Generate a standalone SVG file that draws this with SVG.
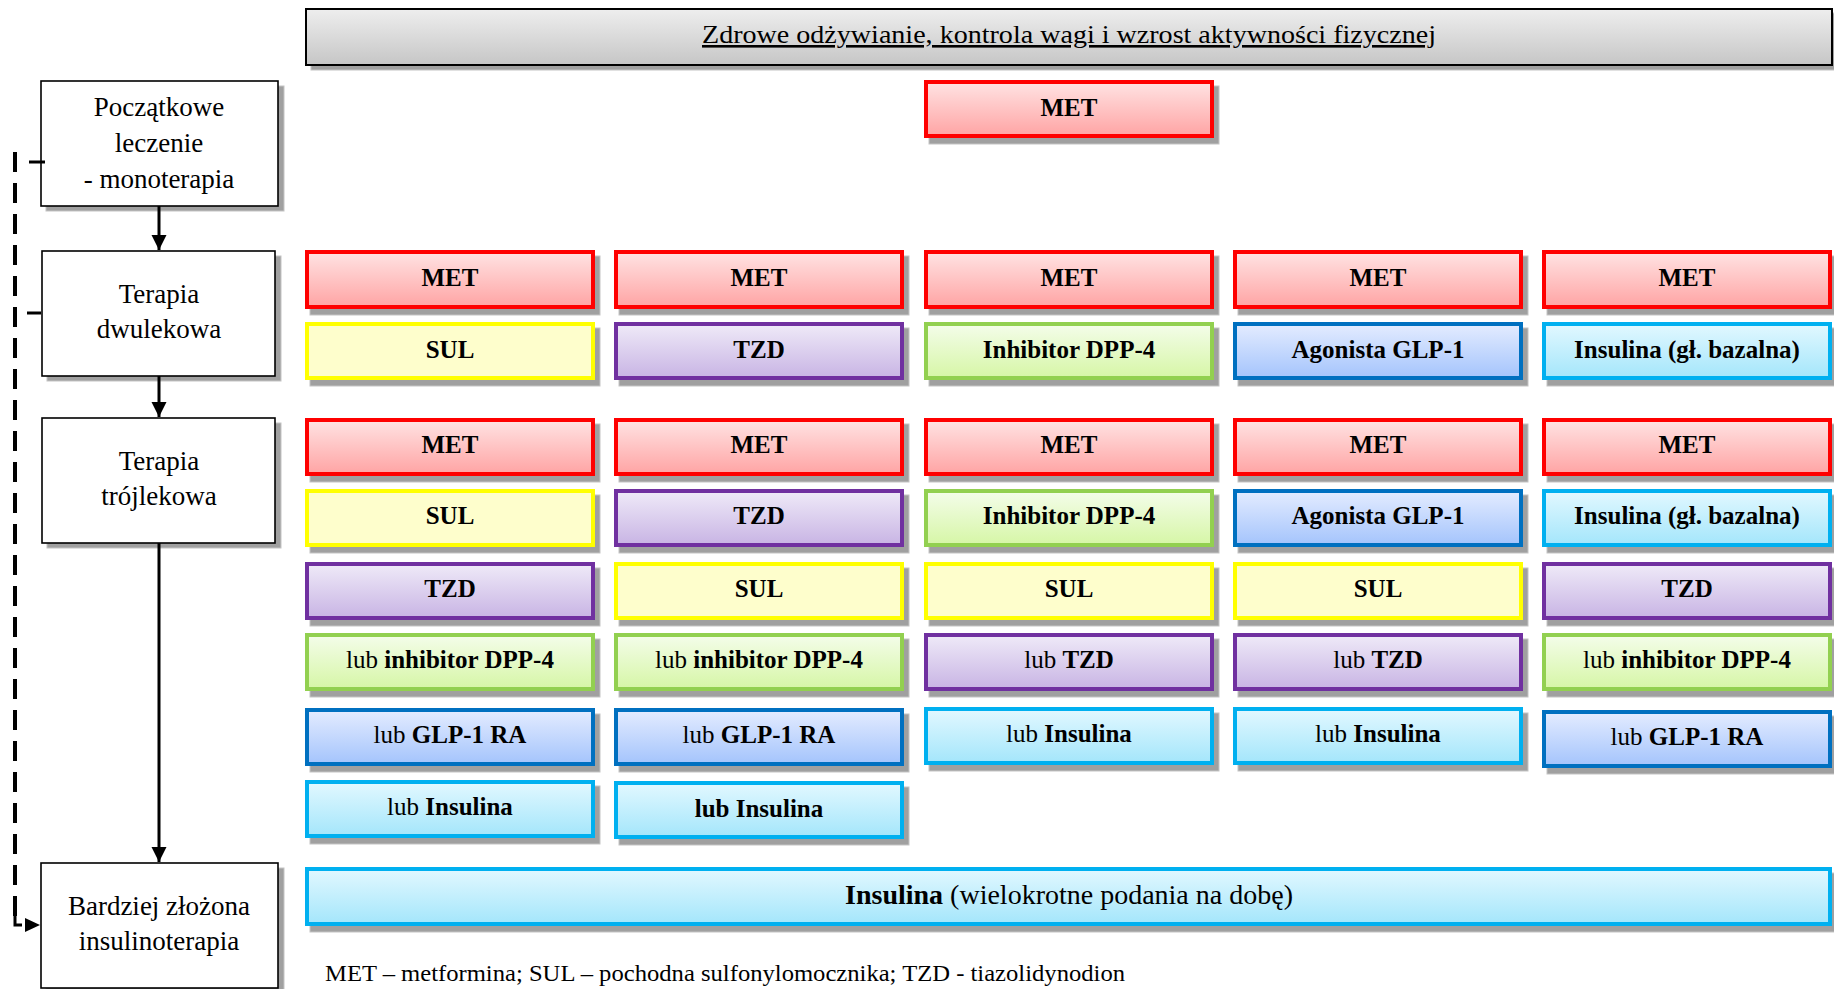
<svg xmlns="http://www.w3.org/2000/svg" width="1834" height="989" viewBox="0 0 1834 989">
<defs>
<linearGradient id="gMET" x1="0" y1="0" x2="0" y2="1"><stop offset="0" stop-color="#FFE3E3"/><stop offset="1" stop-color="#FFA4A4"/></linearGradient>
<linearGradient id="gTZD" x1="0" y1="0" x2="0" y2="1"><stop offset="0" stop-color="#EFEAF8"/><stop offset="1" stop-color="#C8B4E4"/></linearGradient>
<linearGradient id="gDPP" x1="0" y1="0" x2="0" y2="1"><stop offset="0" stop-color="#F4FDEA"/><stop offset="1" stop-color="#D6F6A6"/></linearGradient>
<linearGradient id="gGLP" x1="0" y1="0" x2="0" y2="1"><stop offset="0" stop-color="#E4ECFF"/><stop offset="1" stop-color="#A4C4FC"/></linearGradient>
<linearGradient id="gINS" x1="0" y1="0" x2="0" y2="1"><stop offset="0" stop-color="#E2F8FF"/><stop offset="1" stop-color="#A4E6FB"/></linearGradient>
<linearGradient id="gTop" x1="0" y1="0" x2="0" y2="1"><stop offset="0" stop-color="#EEEEEE"/><stop offset="1" stop-color="#C6C6C6"/></linearGradient>
<marker id="arr" markerUnits="userSpaceOnUse" markerWidth="16" markerHeight="16" refX="15" refY="7.5" orient="auto"><path d="M0,0 L15,7.5 L0,15 z" fill="#000"/></marker>
</defs>
<style>
.sh{fill:#A0A0A0;stroke:#C4C4C4;stroke-width:1}
.box{stroke-width:4}
.met{fill:url(#gMET);stroke:#FF0000}
.sul{fill:#FEFECC;stroke:#FFFF00}
.tzd{fill:url(#gTZD);stroke:#7030A0}
.dpp{fill:url(#gDPP);stroke:#92D050}
.glp{fill:url(#gGLP);stroke:#0070C0}
.ins{fill:url(#gINS);stroke:#00B0F0}
.lb{fill:#fff;stroke:#000;stroke-width:1.6}
.t{font-family:"Liberation Serif","Times New Roman",serif;fill:#000;text-anchor:middle}
.bt{font-size:25px;font-weight:bold}
.lt{font-size:27px}
.r{font-weight:normal}
.con{stroke:#000;stroke-width:3;fill:none}
</style>

<g id="lifestyle">
<rect class="sh" x="311" y="13" width="1527" height="57" stroke="none"/>
<rect x="306" y="9" width="1526" height="56" fill="url(#gTop)" stroke="#000" stroke-width="2"/>
<text class="t" x="1069" y="43" font-size="26" text-decoration="underline" textLength="734" lengthAdjust="spacingAndGlyphs">Zdrowe odżywianie, kontrola wagi i wzrost aktywności fizycznej</text>
</g>

<g id="stage-mono">
<rect class="sh" x="46" y="86" width="238" height="125" stroke="none"/>
<rect class="lb" x="41" y="81" width="237" height="125"/>
<text class="t lt" x="159" y="116">Początkowe</text>
<text class="t lt" x="159" y="152">leczenie</text>
<text class="t lt" x="159" y="188">- monoterapia</text>
</g>
<g id="stage-dual">
<rect class="sh" x="47" y="256" width="234" height="125" stroke="none"/>
<rect class="lb" x="42" y="251" width="233" height="125"/>
<text class="t lt" x="159" y="303">Terapia</text>
<text class="t lt" x="159" y="338">dwulekowa</text>
</g>
<g id="stage-triple">
<rect class="sh" x="47" y="423" width="234" height="125" stroke="none"/>
<rect class="lb" x="42" y="418" width="233" height="125"/>
<text class="t lt" x="159" y="470">Terapia</text>
<text class="t lt" x="159" y="505">trójlekowa</text>
</g>
<g id="stage-insulin">
<rect class="sh" x="46" y="868" width="238" height="125" stroke="none"/>
<rect class="lb" x="41" y="863" width="237" height="125"/>
<text class="t lt" x="159" y="915">Bardziej złożona</text>
<text class="t lt" x="159" y="950">insulinoterapia</text>
</g>

<g id="connectors">
<line class="con" x1="159" y1="206" x2="159" y2="250" marker-end="url(#arr)"/>
<line class="con" x1="159" y1="376" x2="159" y2="417" marker-end="url(#arr)"/>
<line class="con" x1="159" y1="543" x2="159" y2="862" marker-end="url(#arr)"/>
<line x1="29" y1="162" x2="45" y2="162" stroke="#000" stroke-width="3"/>
<line x1="27" y1="313" x2="41" y2="313" stroke="#000" stroke-width="3"/>
<line x1="15" y1="152" x2="15" y2="925" stroke="#000" stroke-width="4" stroke-dasharray="20 11"/>
<path d="M15 916 V925 H22" fill="none" stroke="#000" stroke-width="3"/>
<path d="M25 918 L40 925 L25 932 z" fill="#000"/>
</g>

<g id="met-mono">
<rect class="sh" x="929" y="86" width="290" height="58"/>
<rect class="box met" x="926" y="82" width="286" height="54"/>
<text class="t bt" x="1069" y="116">MET</text>
</g>

<!-- dual therapy -->
<g id="dual-1">
<rect class="sh" x="310" y="256" width="290" height="59"/><rect class="box met" x="307" y="252" width="286" height="55"/><text class="t bt" x="450" y="286">MET</text>
<rect class="sh" x="310" y="328" width="290" height="58"/><rect class="box sul" x="307" y="324" width="286" height="54"/><text class="t bt" x="450" y="358">SUL</text>
</g>
<g id="dual-2">
<rect class="sh" x="619" y="256" width="290" height="59"/><rect class="box met" x="616" y="252" width="286" height="55"/><text class="t bt" x="759" y="286">MET</text>
<rect class="sh" x="619" y="328" width="290" height="58"/><rect class="box tzd" x="616" y="324" width="286" height="54"/><text class="t bt" x="759" y="358">TZD</text>
</g>
<g id="dual-3">
<rect class="sh" x="929" y="256" width="290" height="59"/><rect class="box met" x="926" y="252" width="286" height="55"/><text class="t bt" x="1069" y="286">MET</text>
<rect class="sh" x="929" y="328" width="290" height="58"/><rect class="box dpp" x="926" y="324" width="286" height="54"/><text class="t bt" x="1069" y="358">Inhibitor DPP-4</text>
</g>
<g id="dual-4">
<rect class="sh" x="1238" y="256" width="290" height="59"/><rect class="box met" x="1235" y="252" width="286" height="55"/><text class="t bt" x="1378" y="286">MET</text>
<rect class="sh" x="1238" y="328" width="290" height="58"/><rect class="box glp" x="1235" y="324" width="286" height="54"/><text class="t bt" x="1378" y="358">Agonista GLP-1</text>
</g>
<g id="dual-5">
<rect class="sh" x="1547" y="256" width="290" height="59"/><rect class="box met" x="1544" y="252" width="286" height="55"/><text class="t bt" x="1687" y="286">MET</text>
<rect class="sh" x="1547" y="328" width="290" height="58"/><rect class="box ins" x="1544" y="324" width="286" height="54"/><text class="t bt" x="1687" y="358">Insulina (gł. bazalna)</text>
</g>

<!-- triple therapy -->
<g id="triple-1">
<rect class="sh" x="310" y="424" width="290" height="58"/><rect class="box met" x="307" y="420" width="286" height="54"/><text class="t bt" x="450" y="453">MET</text>
<rect class="sh" x="310" y="495" width="290" height="58"/><rect class="box sul" x="307" y="491" width="286" height="54"/><text class="t bt" x="450" y="524">SUL</text>
<rect class="sh" x="310" y="568" width="290" height="58"/><rect class="box tzd" x="307" y="564" width="286" height="54"/><text class="t bt" x="450" y="597">TZD</text>
<rect class="sh" x="310" y="639" width="290" height="58"/><rect class="box dpp" x="307" y="635" width="286" height="54"/><text class="t bt" x="450" y="668"><tspan class="r">lub </tspan>inhibitor DPP-4</text>
<rect class="sh" x="310" y="714" width="290" height="58"/><rect class="box glp" x="307" y="710" width="286" height="54"/><text class="t bt" x="450" y="743"><tspan class="r">lub </tspan>GLP-1 RA</text>
<rect class="sh" x="310" y="786" width="290" height="58"/><rect class="box ins" x="307" y="782" width="286" height="54"/><text class="t bt" x="450" y="815"><tspan class="r">lub </tspan>Insulina</text>
</g>
<g id="triple-2">
<rect class="sh" x="619" y="424" width="290" height="58"/><rect class="box met" x="616" y="420" width="286" height="54"/><text class="t bt" x="759" y="453">MET</text>
<rect class="sh" x="619" y="495" width="290" height="58"/><rect class="box tzd" x="616" y="491" width="286" height="54"/><text class="t bt" x="759" y="524">TZD</text>
<rect class="sh" x="619" y="568" width="290" height="58"/><rect class="box sul" x="616" y="564" width="286" height="54"/><text class="t bt" x="759" y="597">SUL</text>
<rect class="sh" x="619" y="639" width="290" height="58"/><rect class="box dpp" x="616" y="635" width="286" height="54"/><text class="t bt" x="759" y="668"><tspan class="r">lub </tspan>inhibitor DPP-4</text>
<rect class="sh" x="619" y="714" width="290" height="58"/><rect class="box glp" x="616" y="710" width="286" height="54"/><text class="t bt" x="759" y="743"><tspan class="r">lub </tspan>GLP-1 RA</text>
<rect class="sh" x="619" y="787" width="290" height="58"/><rect class="box ins" x="616" y="783" width="286" height="54"/><text class="t bt" x="759" y="817">lub Insulina</text>
</g>
<g id="triple-3">
<rect class="sh" x="929" y="424" width="290" height="58"/><rect class="box met" x="926" y="420" width="286" height="54"/><text class="t bt" x="1069" y="453">MET</text>
<rect class="sh" x="929" y="495" width="290" height="58"/><rect class="box dpp" x="926" y="491" width="286" height="54"/><text class="t bt" x="1069" y="524">Inhibitor DPP-4</text>
<rect class="sh" x="929" y="568" width="290" height="58"/><rect class="box sul" x="926" y="564" width="286" height="54"/><text class="t bt" x="1069" y="597">SUL</text>
<rect class="sh" x="929" y="639" width="290" height="58"/><rect class="box tzd" x="926" y="635" width="286" height="54"/><text class="t bt" x="1069" y="668"><tspan class="r">lub </tspan>TZD</text>
<rect class="sh" x="929" y="713" width="290" height="58"/><rect class="box ins" x="926" y="709" width="286" height="54"/><text class="t bt" x="1069" y="742"><tspan class="r">lub </tspan>Insulina</text>
</g>
<g id="triple-4">
<rect class="sh" x="1238" y="424" width="290" height="58"/><rect class="box met" x="1235" y="420" width="286" height="54"/><text class="t bt" x="1378" y="453">MET</text>
<rect class="sh" x="1238" y="495" width="290" height="58"/><rect class="box glp" x="1235" y="491" width="286" height="54"/><text class="t bt" x="1378" y="524">Agonista GLP-1</text>
<rect class="sh" x="1238" y="568" width="290" height="58"/><rect class="box sul" x="1235" y="564" width="286" height="54"/><text class="t bt" x="1378" y="597">SUL</text>
<rect class="sh" x="1238" y="639" width="290" height="58"/><rect class="box tzd" x="1235" y="635" width="286" height="54"/><text class="t bt" x="1378" y="668"><tspan class="r">lub </tspan>TZD</text>
<rect class="sh" x="1238" y="713" width="290" height="58"/><rect class="box ins" x="1235" y="709" width="286" height="54"/><text class="t bt" x="1378" y="742"><tspan class="r">lub </tspan>Insulina</text>
</g>
<g id="triple-5">
<rect class="sh" x="1547" y="424" width="290" height="58"/><rect class="box met" x="1544" y="420" width="286" height="54"/><text class="t bt" x="1687" y="453">MET</text>
<rect class="sh" x="1547" y="495" width="290" height="58"/><rect class="box ins" x="1544" y="491" width="286" height="54"/><text class="t bt" x="1687" y="524">Insulina (gł. bazalna)</text>
<rect class="sh" x="1547" y="568" width="290" height="58"/><rect class="box tzd" x="1544" y="564" width="286" height="54"/><text class="t bt" x="1687" y="597">TZD</text>
<rect class="sh" x="1547" y="639" width="290" height="58"/><rect class="box dpp" x="1544" y="635" width="286" height="54"/><text class="t bt" x="1687" y="668"><tspan class="r">lub </tspan>inhibitor DPP-4</text>
<rect class="sh" x="1547" y="716" width="290" height="58"/><rect class="box glp" x="1544" y="712" width="286" height="54"/><text class="t bt" x="1687" y="745"><tspan class="r">lub </tspan>GLP-1 RA</text>
</g>

<g id="insulin-multi">
<rect class="sh" x="310" y="873" width="1527" height="59"/>
<rect class="box ins" x="307" y="869" width="1523" height="55"/>
<text class="t" x="1069" y="904" font-size="28"><tspan font-weight="bold">Insulina</tspan> (wielokrotne podania na dobę)</text>
</g>

<g id="legend">
<text x="325" y="981" font-family="Liberation Serif, serif" font-size="23" fill="#000" textLength="800" lengthAdjust="spacingAndGlyphs">MET – metformina; SUL – pochodna sulfonylomocznika; TZD - tiazolidynodion</text>
</g>
</svg>
